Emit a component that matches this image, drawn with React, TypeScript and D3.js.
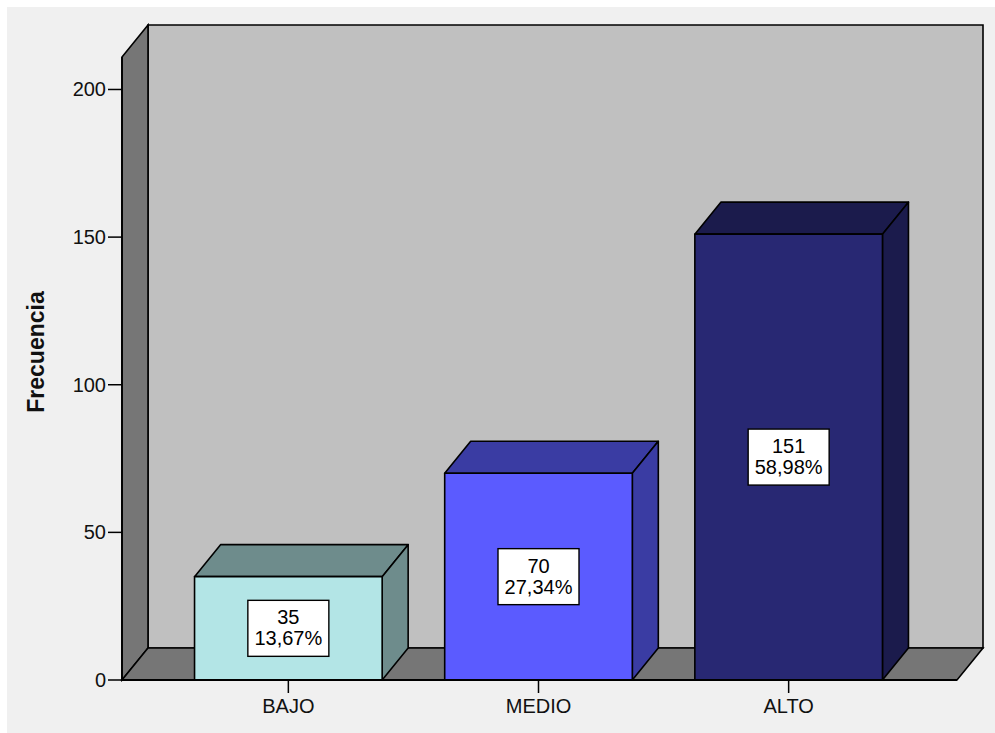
import React from "react";
import * as d3 from "d3";

const categories = ["BAJO", "MEDIO", "ALTO"];
const counts = [35, 70, 151];
const percents = ["13,67%", "27,34%", "58,98%"];
const yTicks = [0, 50, 100, 150, 200];
const frontColors = ["#b3e5e6", "#5b5bff", "#282873"];
const sideColors = ["#6e8c8c", "#3a3ca3", "#1b1b4c"];

const W = 995;
const H = 733;
const X0 = 122;
const X1 = 957;
const Y0 = 680;
const YTOP = 57;
const DX = 26;
const DY = -32;
const FONT = "'Liberation Sans', Arial, sans-serif";

export default function App() {
  const x = d3
    .scaleBand<string>()
    .domain(categories)
    .range([X0, 955])
    .paddingInner(0.25)
    .paddingOuter(0.29);
  const y = d3.scaleLinear().domain([0, 211]).range([Y0, YTOP]);
  const bw = x.bandwidth();
  const pts = (a: number[][]) => a.map((p) => p.join(",")).join(" ");

  return (
    <svg
      width={W}
      height={H}
      style={{ position: "absolute", left: 0, top: 0, display: "block" }}
    >
      <rect x={0} y={0} width={W} height={H} fill="#ffffff" />
      <rect x={7} y={7} width={W - 7} height={H - 7} fill="#f0f0f0" />
      {/* back wall */}
      <polygon
        points={pts([
          [X0 + DX, YTOP + DY],
          [X1 + DX, YTOP + DY],
          [X1 + DX, Y0 + DY],
          [X0 + DX, Y0 + DY],
        ])}
        fill="#c0c0c0"
        stroke="#000"
        strokeWidth={1.6}
      />
      {/* left wall */}
      <polygon
        points={pts([
          [X0, Y0],
          [X0, YTOP],
          [X0 + DX, YTOP + DY],
          [X0 + DX, Y0 + DY],
        ])}
        fill="#767676"
        stroke="#000"
        strokeWidth={1.6}
      />
      {/* floor */}
      <polygon
        points={pts([
          [X0, Y0],
          [X1, Y0],
          [X1 + DX, Y0 + DY],
          [X0 + DX, Y0 + DY],
        ])}
        fill="#767676"
        stroke="#000"
        strokeWidth={1.6}
      />
      {/* bars */}
      {categories.map((c, i) => {
        const xl = x(c)!;
        const xr = xl + bw;
        const yt = y(counts[i]);
        return (
          <g key={c} stroke="#000" strokeWidth={1.6} strokeLinejoin="round">
            <polygon
              points={pts([
                [xl, yt],
                [xr, yt],
                [xr + DX, yt + DY],
                [xl + DX, yt + DY],
              ])}
              fill={sideColors[i]}
            />
            <polygon
              points={pts([
                [xr, yt],
                [xr + DX, yt + DY],
                [xr + DX, Y0 + DY],
                [xr, Y0],
              ])}
              fill={sideColors[i]}
            />
            <rect x={xl} y={yt} width={bw} height={Y0 - yt} fill={frontColors[i]} />
          </g>
        );
      })}
      {/* value labels */}
      {categories.map((c, i) => {
        const cx = x(c)! + bw / 2;
        const cy = (y(counts[i]) + Y0) / 2;
        return (
          <g key={"l" + c} fontFamily={FONT} fontSize={20} textAnchor="middle" fill="#000">
            <rect
              x={cx - 40.5}
              y={cy - 28}
              width={81}
              height={56}
              fill="#ffffff"
              stroke="#000"
              strokeWidth={1.4}
            />
            <text x={cx} y={cy - 4}>
              {counts[i]}
            </text>
            <text x={cx} y={cy + 17}>
              {percents[i]}
            </text>
          </g>
        );
      })}
      {/* axes */}
      <line x1={X0} y1={Y0} x2={X1} y2={Y0} stroke="#000" strokeWidth={1.8} />
      <line x1={X0} y1={Y0} x2={X0} y2={YTOP} stroke="#000" strokeWidth={1.8} />
      {yTicks.map((t) => (
        <g key={t}>
          <line x1={X0 - 14} x2={X0} y1={y(t)} y2={y(t)} stroke="#000" strokeWidth={1.5} />
          <text
            x={X0 - 16}
            y={y(t)}
            dy="0.35em"
            textAnchor="end"
            fontFamily={FONT}
            fontSize={20}
            fill="#111"
          >
            {t}
          </text>
        </g>
      ))}
      {categories.map((c) => {
        const cx = x(c)! + bw / 2;
        return (
          <g key={"x" + c}>
            <line x1={cx} x2={cx} y1={Y0} y2={Y0 + 13} stroke="#000" strokeWidth={1.5} />
            <text
              x={cx}
              y={713}
              textAnchor="middle"
              fontFamily={FONT}
              fontSize={20}
              fill="#111"
            >
              {c}
            </text>
          </g>
        );
      })}
      <text
        transform="translate(44,352) rotate(-90)"
        textAnchor="middle"
        fontFamily={FONT}
        fontSize={23}
        fontWeight="bold"
        fill="#111"
      >
        Frecuencia
      </text>
    </svg>
  );
}
